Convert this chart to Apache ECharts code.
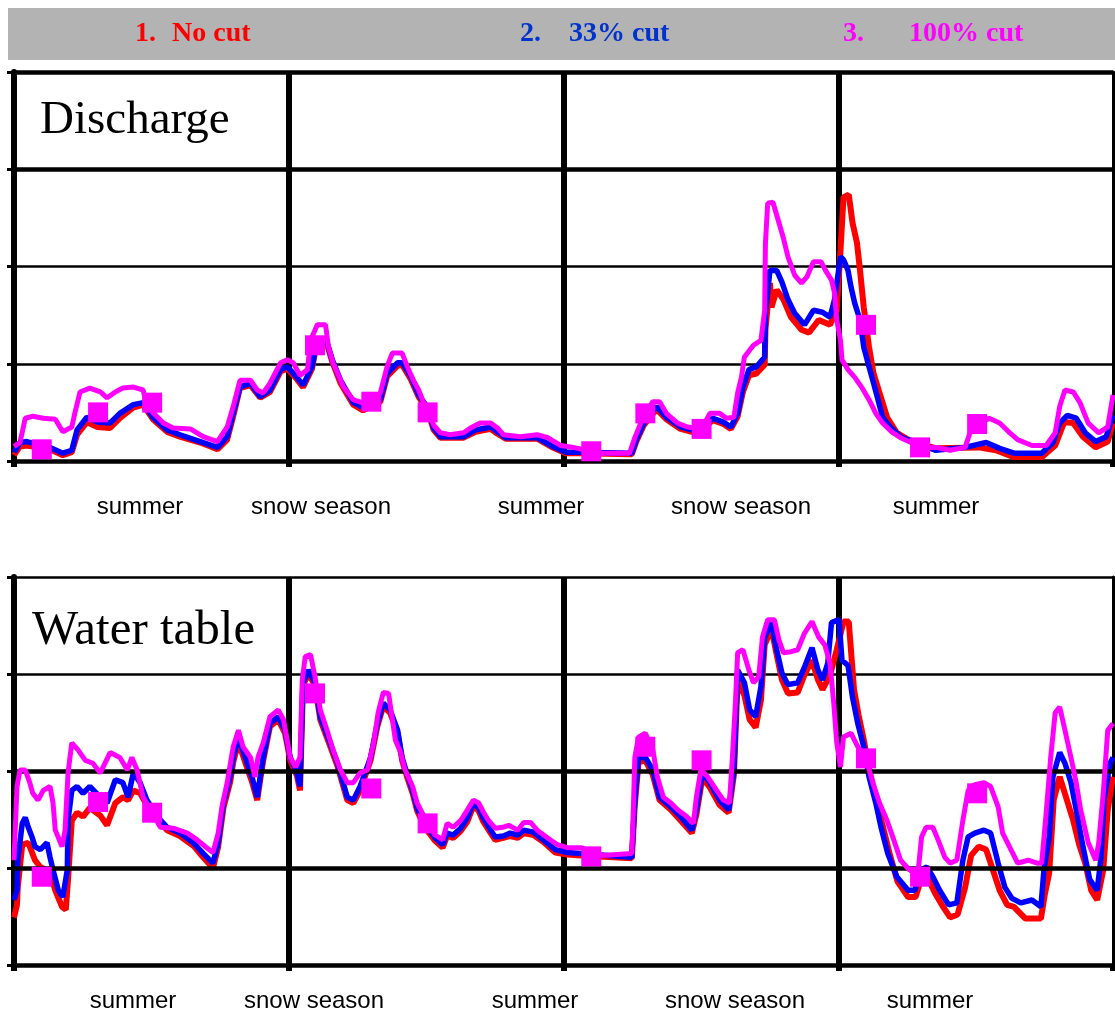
<!DOCTYPE html>
<html>
<head>
<meta charset="utf-8">
<title>Discharge / Water table</title>
<script src="https://cdn.jsdelivr.net/npm/echarts@6/dist/echarts.min.js"></script>
<style>
html, body { margin: 0; padding: 0; background: #fff; }
#main { width: 1115px; height: 1015px; }
</style>
</head>
<body>
<div id="main"></div>
<script>
/* ============================= 数据 ================================ */
// x = day index (4 periods of 366 days), y = relative level (0 - 4)
var legendNumbers = ['1.', '2.', '3.'];
var legendNames   = ['No cut', '33% cut', '100% cut'];
var seasons       = ['summer', 'snow season', 'summer', 'snow season', 'summer'];
var panelTitles   = ['Discharge', 'Water table'];

// Discharge
var dischargeNoCut = [[0,0.06],[8,0.15],[17,0.16],[48,0.12],[65,0.06],[77,0.09],[84,0.27],[97,0.40],[111,0.35],[128,0.34],[141,0.44],[159,0.55],[172,0.58],[185,0.43],[204,0.30],[221,0.25],[248,0.19],[271,0.12],[284,0.22],[292,0.46],[301,0.75],[315,0.78],[328,0.65],[341,0.71],[355,0.92],[364,0.95],[377,0.84],[385,0.76],[397,0.95],[404,1.24],[417,1.20],[424,1.02],[435,0.80],[452,0.58],[465,0.52],[488,0.61],[497,0.87],[511,0.98],[517,0.99],[528,0.85],[539,0.66],[551,0.52],[559,0.32],[568,0.24],[599,0.24],[615,0.30],[635,0.33],[644,0.28],[655,0.23],[697,0.23],[715,0.15],[735,0.08],[755,0.08],[823,0.07],[829,0.20],[839,0.37],[856,0.53],[869,0.43],[888,0.33],[903,0.30],[917,0.32],[931,0.42],[945,0.38],[955,0.33],[964,0.46],[971,0.71],[979,0.88],[989,0.90],[1000,0.99],[1001,1.35],[1007,1.83],[1009,1.58],[1016,1.76],[1025,1.66],[1035,1.48],[1049,1.35],[1059,1.32],[1072,1.45],[1087,1.40],[1096,1.55],[1101,2.17],[1105,2.71],[1112,2.74],[1117,2.45],[1123,2.24],[1127,1.96],[1132,1.58],[1139,1.17],[1145,0.90],[1153,0.70],[1163,0.45],[1176,0.29],[1191,0.22],[1228,0.13],[1285,0.14],[1308,0.11],[1332,0.04],[1369,0.04],[1387,0.16],[1399,0.40],[1411,0.39],[1424,0.25],[1441,0.14],[1457,0.20],[1464,0.39]];
var discharge33 = [[0,0.09],[8,0.19],[17,0.20],[48,0.14],[65,0.08],[77,0.11],[84,0.32],[97,0.45],[111,0.40],[128,0.39],[141,0.49],[159,0.58],[172,0.60],[185,0.45],[204,0.32],[221,0.27],[248,0.20],[271,0.14],[284,0.25],[292,0.49],[301,0.76],[315,0.80],[328,0.66],[341,0.73],[355,0.94],[364,0.97],[377,0.86],[385,0.78],[397,0.97],[404,1.26],[417,1.22],[424,1.04],[435,0.83],[452,0.60],[465,0.55],[488,0.63],[497,0.90],[511,1.01],[517,1.01],[528,0.88],[539,0.68],[551,0.55],[559,0.34],[568,0.25],[599,0.25],[615,0.32],[635,0.35],[644,0.30],[655,0.24],[697,0.24],[715,0.16],[735,0.09],[755,0.09],[823,0.08],[829,0.22],[839,0.39],[856,0.56],[869,0.45],[888,0.35],[903,0.32],[917,0.34],[931,0.44],[945,0.40],[955,0.35],[964,0.49],[971,0.76],[979,0.94],[989,0.97],[1000,1.07],[1001,1.52],[1007,1.96],[1016,1.96],[1023,1.84],[1031,1.66],[1040,1.52],[1053,1.40],[1065,1.55],[1077,1.53],[1087,1.48],[1093,1.66],[1101,2.10],[1105,2.07],[1111,1.96],[1115,1.79],[1120,1.62],[1127,1.45],[1132,1.17],[1139,0.97],[1144,0.83],[1151,0.63],[1157,0.45],[1167,0.35],[1181,0.25],[1200,0.19],[1228,0.11],[1267,0.14],[1295,0.19],[1313,0.13],[1332,0.08],[1369,0.08],[1384,0.19],[1393,0.39],[1403,0.47],[1415,0.44],[1427,0.29],[1441,0.20],[1455,0.25],[1464,0.47]];
var discharge100 = [[0,0.15],[8,0.19],[15,0.44],[25,0.46],[39,0.44],[55,0.43],[65,0.30],[77,0.35],[81,0.49],[88,0.71],[101,0.75],[115,0.71],[124,0.65],[135,0.71],[145,0.75],[159,0.76],[172,0.73],[177,0.56],[199,0.39],[212,0.34],[235,0.33],[252,0.25],[271,0.20],[284,0.35],[292,0.56],[301,0.83],[315,0.83],[324,0.73],[332,0.70],[341,0.80],[355,1.01],[364,1.04],[372,1.01],[381,0.88],[391,0.94],[395,1.24],[404,1.40],[415,1.40],[419,1.17],[425,1.01],[439,0.76],[452,0.63],[471,0.58],[488,0.70],[497,0.97],[504,1.11],[517,1.11],[524,0.97],[532,0.83],[539,0.73],[551,0.50],[559,0.37],[568,0.29],[581,0.27],[599,0.29],[608,0.34],[621,0.39],[635,0.39],[644,0.34],[652,0.27],[675,0.25],[697,0.27],[711,0.24],[728,0.16],[745,0.14],[769,0.10],[784,0.08],[820,0.08],[827,0.24],[835,0.39],[841,0.49],[851,0.61],[860,0.61],[869,0.49],[884,0.39],[897,0.35],[916,0.33],[927,0.49],[940,0.49],[949,0.44],[959,0.45],[964,0.70],[969,0.86],[973,1.07],[985,1.19],[995,1.24],[1000,1.55],[1001,2.24],[1004,2.65],[1011,2.66],[1019,2.45],[1025,2.29],[1031,2.10],[1040,1.91],[1049,1.83],[1056,1.89],[1065,2.05],[1075,2.05],[1081,1.96],[1089,1.86],[1093,1.73],[1096,1.45],[1101,1.24],[1103,1.04],[1111,0.94],[1120,0.86],[1129,0.76],[1139,0.63],[1148,0.49],[1157,0.39],[1169,0.30],[1181,0.24],[1195,0.19],[1207,0.14],[1228,0.14],[1247,0.11],[1267,0.14],[1276,0.35],[1283,0.37],[1299,0.44],[1313,0.39],[1325,0.30],[1337,0.22],[1356,0.16],[1375,0.16],[1387,0.29],[1393,0.56],[1400,0.73],[1411,0.71],[1420,0.60],[1431,0.39],[1445,0.29],[1457,0.35],[1464,0.68]];
var dischargeObs = [[37,0.12],[112,0.50],[184,0.60],[401,1.19],[476,0.61],[551,0.50],[769,0.10],[841,0.49],[916,0.33],[1135,1.40],[1207,0.14],[1283,0.38]];

// Water table
var wtNoCut = [[0,0.49],[4,0.62],[5,0.80],[11,1.24],[19,1.26],[28,1.08],[35,1.01],[48,0.96],[55,0.77],[64,0.60],[69,0.57],[72,0.88],[77,1.49],[84,1.57],[92,1.53],[101,1.62],[115,1.54],[124,1.44],[135,1.67],[145,1.73],[152,1.70],[159,1.80],[168,1.77],[177,1.65],[191,1.49],[204,1.39],[221,1.33],[239,1.23],[252,1.11],[265,1.00],[272,1.22],[279,1.62],[288,1.89],[292,2.09],[299,2.30],[308,2.09],[317,1.89],[324,1.70],[328,1.91],[332,2.11],[341,2.46],[352,2.53],[361,2.39],[368,2.11],[377,1.95],[381,1.80],[385,2.88],[392,3.01],[401,2.88],[408,2.53],[421,2.26],[431,2.05],[444,1.70],[452,1.67],[461,1.80],[475,2.11],[484,2.46],[492,2.67],[501,2.60],[511,2.39],[517,2.11],[524,1.93],[531,1.77],[537,1.59],[548,1.41],[561,1.28],[571,1.21],[577,1.33],[585,1.31],[595,1.38],[604,1.48],[612,1.64],[619,1.59],[625,1.48],[635,1.36],[641,1.29],[652,1.31],[661,1.33],[671,1.31],[679,1.36],[692,1.34],[705,1.27],[721,1.16],[737,1.14],[755,1.13],[823,1.10],[827,1.65],[832,2.09],[841,2.11],[851,1.96],[860,1.70],[875,1.60],[888,1.49],[903,1.36],[909,1.55],[917,1.93],[927,1.83],[940,1.65],[952,1.57],[959,1.96],[964,2.94],[973,2.78],[980,2.53],[988,2.45],[995,2.73],[1000,3.30],[1009,3.47],[1016,3.20],[1023,2.94],[1031,2.80],[1044,2.81],[1053,2.99],[1063,3.14],[1071,2.94],[1077,2.84],[1087,2.99],[1096,3.25],[1105,3.54],[1112,3.54],[1119,2.84],[1125,2.58],[1132,2.32],[1140,1.99],[1149,1.70],[1157,1.44],[1167,1.13],[1177,0.86],[1191,0.70],[1201,0.70],[1209,0.90],[1217,0.90],[1227,0.74],[1236,0.62],[1247,0.49],[1257,0.52],[1267,0.80],[1275,1.13],[1285,1.22],[1295,1.19],[1304,0.98],[1313,0.77],[1323,0.62],[1332,0.60],[1347,0.48],[1368,0.48],[1373,0.72],[1379,0.95],[1385,1.70],[1393,1.94],[1401,1.74],[1411,1.49],[1419,1.24],[1427,1.05],[1435,0.77],[1443,0.67],[1451,0.98],[1457,1.60],[1464,1.94]];
var wt33 = [[0,0.67],[4,0.77],[5,1.08],[11,1.46],[15,1.52],[19,1.42],[24,1.32],[28,1.22],[35,1.19],[44,1.26],[48,1.11],[52,0.98],[59,0.77],[65,0.70],[71,0.98],[72,1.49],[77,1.80],[84,1.84],[92,1.77],[101,1.84],[115,1.73],[124,1.67],[135,1.91],[145,1.88],[152,1.73],[159,1.98],[168,1.88],[177,1.70],[191,1.53],[204,1.42],[221,1.36],[239,1.26],[252,1.15],[265,1.05],[272,1.26],[279,1.67],[288,1.94],[292,2.14],[299,2.35],[308,2.14],[317,1.94],[324,1.73],[328,1.94],[332,2.14],[341,2.49],[352,2.56],[361,2.42],[368,2.14],[377,1.98],[381,1.84],[385,2.91],[392,3.04],[401,2.91],[408,2.56],[421,2.29],[431,2.08],[444,1.73],[452,1.70],[461,1.84],[475,2.14],[484,2.49],[492,2.70],[501,2.63],[511,2.42],[517,2.14],[524,1.96],[531,1.80],[537,1.62],[548,1.44],[561,1.31],[571,1.24],[577,1.36],[585,1.34],[595,1.41],[604,1.52],[612,1.67],[619,1.62],[625,1.52],[635,1.39],[641,1.32],[652,1.33],[661,1.36],[671,1.34],[679,1.39],[692,1.37],[705,1.29],[721,1.19],[737,1.16],[755,1.15],[823,1.11],[827,1.70],[832,2.14],[841,2.14],[851,2.01],[860,1.73],[875,1.63],[888,1.53],[903,1.39],[909,1.60],[917,1.98],[927,1.88],[940,1.70],[952,1.60],[959,2.01],[964,3.04],[973,2.91],[980,2.63],[988,2.56],[995,2.87],[1000,3.38],[1009,3.53],[1016,3.25],[1023,3.01],[1031,2.89],[1044,2.91],[1053,3.07],[1063,3.27],[1071,3.04],[1077,2.94],[1084,3.11],[1089,3.53],[1099,3.56],[1103,3.14],[1111,3.09],[1117,2.76],[1124,2.49],[1132,2.25],[1139,1.94],[1148,1.67],[1155,1.42],[1164,1.15],[1176,0.91],[1191,0.77],[1200,0.77],[1209,0.98],[1216,1.01],[1224,0.91],[1233,0.77],[1245,0.62],[1256,0.64],[1264,1.08],[1271,1.32],[1280,1.36],[1292,1.39],[1301,1.36],[1311,1.05],[1320,0.80],[1329,0.69],[1341,0.64],[1356,0.67],[1368,0.60],[1372,0.98],[1379,1.32],[1384,1.94],[1393,2.19],[1400,2.08],[1408,1.88],[1415,1.60],[1424,1.22],[1433,0.88],[1443,0.77],[1448,1.11],[1452,1.70],[1460,2.08],[1464,2.14]];
var wt100 = [[0,1.08],[4,1.84],[8,2.01],[15,2.01],[21,1.88],[25,1.77],[32,1.70],[39,1.80],[48,1.84],[52,1.67],[55,1.39],[64,1.22],[68,1.39],[72,1.98],[77,2.29],[85,2.22],[95,2.11],[105,2.08],[115,1.98],[128,2.19],[141,2.14],[151,2.01],[157,2.14],[164,2.01],[172,1.73],[195,1.42],[212,1.41],[231,1.36],[244,1.29],[255,1.22],[265,1.16],[272,1.36],[277,1.63],[284,1.88],[292,2.25],[299,2.42],[305,2.25],[315,2.14],[321,1.94],[325,2.14],[332,2.29],[341,2.56],[352,2.63],[359,2.53],[368,2.14],[375,2.04],[381,2.14],[384,2.94],[388,3.18],[395,3.20],[401,2.97],[408,2.63],[417,2.42],[425,2.22],[435,2.01],[444,1.88],[452,1.88],[461,1.98],[471,2.01],[479,2.29],[485,2.60],[492,2.81],[499,2.80],[508,2.32],[515,2.19],[521,2.01],[531,1.84],[537,1.67],[551,1.46],[561,1.34],[571,1.29],[577,1.46],[585,1.42],[595,1.49],[604,1.60],[612,1.70],[619,1.67],[625,1.58],[632,1.49],[641,1.41],[651,1.42],[659,1.44],[671,1.39],[679,1.47],[688,1.47],[697,1.39],[711,1.31],[724,1.24],[737,1.21],[755,1.21],[784,1.13],[823,1.15],[825,1.60],[827,2.14],[832,2.35],[841,2.39],[851,2.22],[857,1.94],[865,1.73],[875,1.67],[884,1.60],[896,1.53],[905,1.46],[909,1.73],[915,2.01],[924,1.94],[936,1.80],[945,1.70],[953,1.67],[957,2.14],[961,2.70],[964,3.22],[971,3.25],[979,3.04],[985,2.91],[992,2.97],[997,3.38],[1004,3.56],[1013,3.56],[1019,3.35],[1025,3.22],[1035,3.23],[1044,3.25],[1053,3.42],[1063,3.54],[1072,3.38],[1080,3.30],[1087,3.11],[1092,2.70],[1096,2.29],[1101,2.04],[1105,2.35],[1115,2.39],[1124,2.25],[1135,2.13],[1144,1.88],[1153,1.67],[1163,1.49],[1172,1.29],[1181,1.08],[1193,0.98],[1204,0.93],[1209,1.32],[1215,1.42],[1224,1.42],[1231,1.29],[1240,1.11],[1247,1.05],[1256,1.08],[1264,1.49],[1271,1.80],[1280,1.86],[1292,1.88],[1301,1.84],[1311,1.63],[1317,1.36],[1328,1.19],[1337,1.05],[1351,1.08],[1363,1.05],[1369,1.05],[1375,1.57],[1381,2.14],[1387,2.60],[1393,2.66],[1400,2.42],[1408,2.14],[1415,1.88],[1421,1.60],[1431,1.26],[1441,1.08],[1445,1.26],[1451,1.77],[1457,2.42],[1464,2.49]];
var wtObs = [[37,0.91],[112,1.68],[184,1.57],[401,2.80],[476,1.82],[551,1.46],[769,1.12],[841,2.25],[916,2.11],[1135,2.13],[1207,0.91],[1283,1.77]];

/* ============================= 样式 ================================ */
var RED = '#ff0000', BLUE = '#0000ff', MAGENTA = '#ff00ff';
var legendColors = ['#ff0000', '#0033cc', '#ff00ff'];
var BLACK = '#000';

function makeXAxis(gi) {
	return {
		type: 'value', gridIndex: gi, min: 0, max: 1464, interval: 366,
		axisLine: { show: true, onZero: false, lineStyle: { color: BLACK, width: 4.5 } },
		axisTick: { show: true, length: 6, lineStyle: { color: BLACK, width: 6 } },
		axisLabel: { show: false },
		splitLine: { show: true, showMinLine: false, showMaxLine: false, lineStyle: { color: BLACK, width: 6 } }
	};
}
function makeYAxis(gi) {
	return {
		type: 'value', gridIndex: gi, min: 0, max: 4, interval: 1, position: 'left',
		axisLine: { show: true, onZero: false, lineStyle: { color: BLACK, width: 6 } },
		axisTick: { show: true, length: 7, lineStyle: { color: BLACK, width: 3 } },
		axisLabel: { show: false },
		splitLine: { show: true, lineStyle: { color: BLACK, width: 2.5 } }
	};
}
function makeRightAxis(gi) { // 右边框
	return {
		type: 'value', gridIndex: gi, min: 0, max: 4, interval: 1, position: 'right',
		axisLine: { show: true, onZero: false, lineStyle: { color: BLACK, width: 3 } },
		axisTick: { show: false }, axisLabel: { show: false }, splitLine: { show: false }
	};
}
// thicker horizontal grid lines
function thickLines(gi, levels) {
	return {
		type: 'line', xAxisIndex: gi, yAxisIndex: gi, data: [], z: 1, silent: true,
		markLine: {
			silent: true, symbol: ['none', 'none'], animation: false,
			label: { show: false },
			lineStyle: { color: BLACK, width: 4.5, type: 'solid' },
			emphasis: { disabled: true },
			data: levels.map(function (v) { return { yAxis: v }; })
		}
	};
}
function lineSeries(gi, name, data, color, width, z) {
	return {
		type: 'line', name: name, xAxisIndex: gi, yAxisIndex: gi, data: data,
		symbol: 'none', z: z, silent: true,
		lineStyle: { color: color, width: width, opacity: 1 },
		emphasis: { disabled: true }
	};
}
function obsSeries(gi, data) {
	return {
		type: 'scatter', xAxisIndex: gi, yAxisIndex: gi, data: data,
		symbol: 'rect', symbolSize: 20, z: 6, silent: true,
		itemStyle: { color: MAGENTA, opacity: 1 },
		emphasis: { disabled: true }
	};
}

/* ============================= 文字 ================================ */
var graphics = [
	{ type: 'rect', x: 8, y: 8, shape: { width: 1107, height: 52 }, style: { fill: '#b3b3b3' }, z: -1 }
];
var numX = [135, 520, 843], nameX = [172, 569, 909];
for (var i = 0; i < 3; i++) {
	graphics.push({ type: 'text', x: numX[i], y: 34, style: { text: legendNumbers[i], font: 'bold 28px "Liberation Serif"', fill: legendColors[i], align: 'left', verticalAlign: 'middle' } });
	graphics.push({ type: 'text', x: nameX[i], y: 34, style: { text: legendNames[i], font: 'bold 28px "Liberation Serif"', fill: legendColors[i], align: 'left', verticalAlign: 'middle' } });
}
graphics.push({ type: 'text', x: 40, y: 121, style: { text: panelTitles[0], font: '47px "Liberation Serif"', fill: BLACK, align: 'left', verticalAlign: 'middle' } });
graphics.push({ type: 'text', x: 32, y: 631, style: { text: panelTitles[1], font: '49px "Liberation Serif"', fill: BLACK, align: 'left', verticalAlign: 'middle' } });
var seasonX = [[140, 321, 541, 741, 936], [133, 314, 535, 735, 930]], seasonY = [507, 1001];
for (var p = 0; p < 2; p++) {
	for (var k = 0; k < seasons.length; k++) {
		graphics.push({ type: 'text', x: seasonX[p][k], y: seasonY[p], style: { text: seasons[k], font: '24px "Liberation Sans"', fill: BLACK, align: 'center', verticalAlign: 'middle' } });
	}
}

var option = {
	animation: false,
	backgroundColor: '#fff',
	grid: [
		{ left: 14, right: 2, top: 72, height: 389, outerBoundsMode: 'none' },
		{ left: 14, right: 2, top: 577, height: 388, outerBoundsMode: 'none' }
	],
	xAxis: [makeXAxis(0), makeXAxis(1)],
	yAxis: [makeYAxis(0), makeYAxis(1), makeRightAxis(0), makeRightAxis(1)],
	graphic: graphics,
	series: [
		thickLines(0, [3, 4]),
		thickLines(1, [1, 2]),
		lineSeries(0, legendNames[0], dischargeNoCut, RED, 6, 3),
		lineSeries(0, legendNames[1], discharge33, BLUE, 5.5, 4),
		lineSeries(0, legendNames[2], discharge100, MAGENTA, 5, 5),
		obsSeries(0, dischargeObs),
		lineSeries(1, legendNames[0], wtNoCut, RED, 6, 3),
		lineSeries(1, legendNames[1], wt33, BLUE, 5.5, 4),
		lineSeries(1, legendNames[2], wt100, MAGENTA, 5, 5),
		obsSeries(1, wtObs)
	]
};

var chart = echarts.init(document.getElementById('main'), null, { renderer: 'canvas' });
chart.setOption(option);
</script>
</body>
</html>
